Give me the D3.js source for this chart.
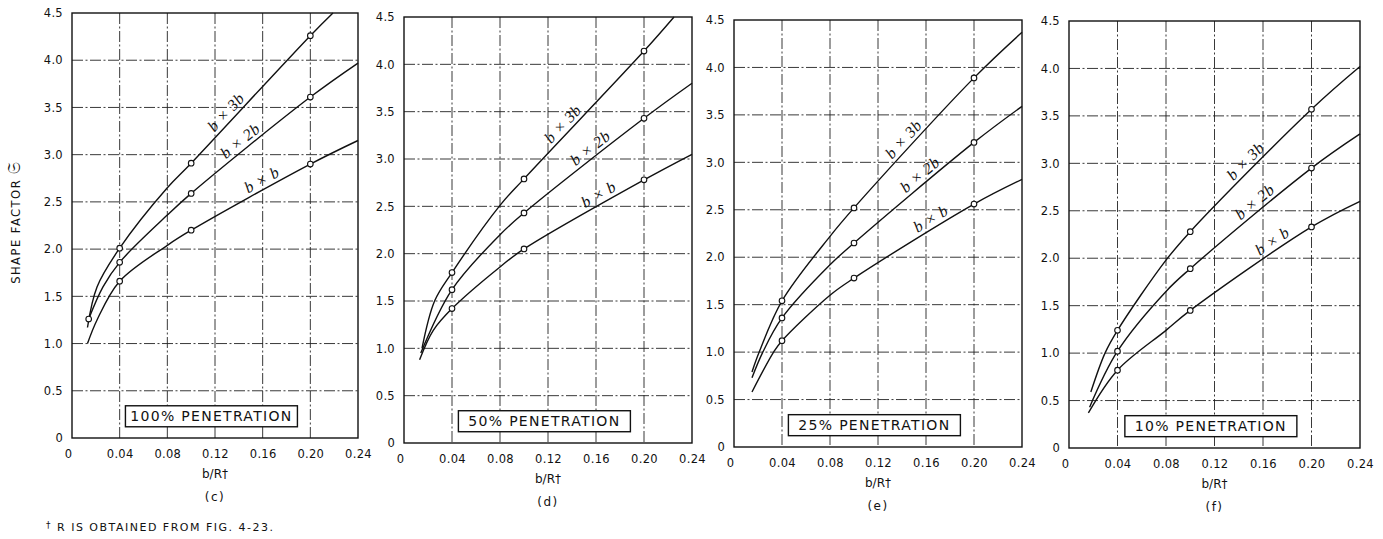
<!DOCTYPE html>
<html>
<head>
<meta charset="utf-8">
<script src="https://cdn.jsdelivr.net/npm/d3@7"></script>
<style>
  body { margin: 0; background: #fff; }
  svg text { font-family: "DejaVu Sans", sans-serif; fill: #111; }
  .grid line { stroke: #222; stroke-width: 0.9; stroke-dasharray: 11, 2.5, 2, 2.5; }
  .frame { fill: none; stroke: #111; stroke-width: 1.4; }
  .curve { fill: none; stroke: #111; stroke-width: 1.4; }
  .pt { fill: #fff; stroke: #111; stroke-width: 1.1; }
  .tick-label { font-size: 11.5px; letter-spacing: 0.3px; }
  .curve-label { font-family: "Liberation Serif", serif; font-style: italic; font-size: 16px; letter-spacing: 0.5px; }
  .pen-box { fill: #fff; stroke: #111; stroke-width: 1.4; }
  .pen-text { font-size: 14px; letter-spacing: 1.3px; }
</style>
</head>
<body>
<div id="chart"></div>
<script>
// ---- data ----
const xTicks = [0, 0.04, 0.08, 0.12, 0.16, 0.20, 0.24];
const yTicks = [0, 0.5, 1.0, 1.5, 2.0, 2.5, 3.0, 3.5, 4.0, 4.5];
const panelLetters = ["(c)", "(d)", "(e)", "(f)"];
const penetrations = ["100% PENETRATION", "50% PENETRATION", "25% PENETRATION", "10% PENETRATION"];
const seriesNames = ["b × 3b", "b × 2b", "b × b"];

// b/R of the circled points
const circleX = [0.04, 0.10, 0.20];

// shape factor at the circled points, per series (b×3b, b×2b, b×b)
const circlesC = [[2.01, 2.91, 4.26], [1.86, 2.59, 3.61], [1.66, 2.20, 2.90]];
const circlesD = [[1.80, 2.79, 4.14], [1.62, 2.43, 3.43], [1.42, 2.05, 2.78]];
const circlesE = [[1.54, 2.52, 3.89], [1.36, 2.15, 3.21], [1.12, 1.78, 2.56]];
const circlesF = [[1.24, 2.28, 3.57], [1.02, 1.89, 2.95], [0.82, 1.45, 2.33]];

// other points along each traced curve [b/R, shape factor]
const traceC = [
  [[0.013, 1.17], [0.021, 1.60], [0.08, 2.65], [0.219, 4.5]],
  [[0.014, 1.26], [0.026, 1.60], [0.08, 2.36], [0.24, 3.97]],
  [[0.013, 1.00], [0.021, 1.25], [0.08, 2.04], [0.24, 3.15]]
];
const traceD = [
  [[0.015, 1.00], [0.0255, 1.50], [0.08, 2.51], [0.225, 4.5]],
  [[0.014, 0.95], [0.08, 2.20], [0.24, 3.80]],
  [[0.013, 0.88], [0.0244, 1.19], [0.08, 1.86], [0.24, 3.05]]
];
const traceE = [
  [[0.015, 0.79], [0.021, 1.00], [0.08, 2.22], [0.24, 4.37]],
  [[0.015, 0.73], [0.024, 1.00], [0.08, 1.92], [0.24, 3.59]],
  [[0.015, 0.58], [0.033, 1.00], [0.08, 1.60], [0.24, 2.82]]
];
const traceF = [
  [[0.018, 0.59], [0.0297, 1.00], [0.08, 1.98], [0.24, 4.02]],
  [[0.017, 0.43], [0.08, 1.65], [0.24, 3.31]],
  [[0.016, 0.37], [0.08, 1.24], [0.24, 2.60]]
];

// extra circle drawn at the start of b×2b in panel (c)
const extraCircles = [{panel: 0, x: 0.014, y: 1.26}];

const circleSets = [circlesC, circlesD, circlesE, circlesF];
const traceSets = [traceC, traceD, traceE, traceF];

// ---- layout ----
const width = 1383, height = 539;
const panels = [
  {left: 72,   right: 358,  top: 13, bottom: 438, labelX: [0.135, 0.146, 0.163]},
  {left: 404,  right: 692,  top: 17, bottom: 443, labelX: [0.138, 0.160, 0.166]},
  {left: 734,  right: 1022, top: 20, bottom: 447, labelX: [0.147, 0.160, 0.168]},
  {left: 1069, right: 1360, top: 21, bottom: 448, labelX: [0.151, 0.158, 0.172]}
];

const svg = d3.select("#chart").append("svg")
    .attr("width", width)
    .attr("height", height);

const line = d3.line().curve(d3.curveCatmullRom.alpha(0.5));

function pointAtX(node, px) {
  let lo = 0, hi = node.getTotalLength();
  for (let i = 0; i < 30; i++) {
    const mid = (lo + hi) / 2;
    if (node.getPointAtLength(mid).x < px) lo = mid; else hi = mid;
  }
  return lo;
}

panels.forEach((p, pi) => {
  const x = d3.scaleLinear().domain([0, 0.24]).range([p.left, p.right]);
  const y = d3.scaleLinear().domain([0, 4.5]).range([p.bottom, p.top]);
  const g = svg.append("g");

  // grid lines (dash-dot)
  const grid = g.append("g").attr("class", "grid");
  grid.selectAll(".vx")
    .data(xTicks.slice(1, -1))
    .join("line")
      .attr("x1", d => x(d)).attr("x2", d => x(d))
      .attr("y1", p.top).attr("y2", p.bottom);
  grid.selectAll(".hy")
    .data(yTicks.slice(1, -1))
    .join("line")
      .attr("x1", p.left).attr("x2", p.right)
      .attr("y1", d => y(d)).attr("y2", d => y(d));

  // axes, labels only
  const xAxis = d3.axisBottom(x).tickValues(xTicks).tickSize(0).tickPadding(12)
      .tickFormat(d => d === 0 ? "0" : d3.format(".2f")(d));
  const yAxis = d3.axisLeft(y).tickValues(yTicks).tickSize(0).tickPadding(9)
      .tickFormat(d => d === 0 ? "0" : d3.format(".1f")(d));

  const xg = g.append("g").attr("transform", `translate(0,${p.bottom})`).call(xAxis);
  const yg = g.append("g").attr("transform", `translate(${p.left},0)`).call(yAxis);
  [xg, yg].forEach(a => {
    a.select(".domain").remove();
    a.selectAll("text").attr("class", "tick-label").attr("fill", "#111")
      .style("font-family", "DejaVu Sans, sans-serif");
  });
  xg.selectAll(".tick").filter(d => d === 0).select("text").attr("dx", -4);

  // frame
  g.append("rect").attr("class", "frame")
    .attr("x", p.left).attr("y", p.top)
    .attr("width", p.right - p.left).attr("height", p.bottom - p.top);

  // penetration box
  const cx = x(0.117), cy = y(0.23);
  const bw = 172, bh = 21;
  g.append("rect").attr("class", "pen-box")
    .attr("x", cx - bw / 2).attr("y", cy - bh / 2)
    .attr("width", bw).attr("height", bh);
  g.append("text").attr("class", "pen-text")
    .attr("x", cx).attr("y", cy + 5)
    .attr("text-anchor", "middle")
    .text(penetrations[pi]);

  // curves + circles
  const circles = circleSets[pi];
  const traces = traceSets[pi];
  seriesNames.forEach((name, si) => {
    const pts = traces[si].concat(circleX.map((cxv, k) => [cxv, circles[si][k]]))
      .sort((a, b) => a[0] - b[0]);
    const path = g.append("path").attr("class", "curve")
      .attr("d", line(pts.map(d => [x(d[0]), y(d[1])])));

    g.selectAll(null)
      .data(circleX.map((cxv, k) => [cxv, circles[si][k]]))
      .join("circle").attr("class", "pt")
      .attr("cx", d => x(d[0])).attr("cy", d => y(d[1])).attr("r", 2.8);

    // label along the curve
    const node = path.node();
    const L = pointAtX(node, x(p.labelX[si]));
    const a = node.getPointAtLength(L);
    const a1 = node.getPointAtLength(Math.max(0, L - 6));
    const a2 = node.getPointAtLength(L + 6);
    const ang = Math.atan2(a2.y - a1.y, a2.x - a1.x) * 180 / Math.PI;
    g.append("text").attr("class", "curve-label")
      .attr("transform", `translate(${a.x},${a.y}) rotate(${ang})`)
      .attr("y", -4)
      .attr("text-anchor", "middle")
      .text(name);
  });

  extraCircles.filter(e => e.panel === pi).forEach(e => {
    g.append("circle").attr("class", "pt")
      .attr("cx", x(e.x)).attr("cy", y(e.y)).attr("r", 2.8);
  });

  // x title and panel letter
  const mid = (p.left + p.right) / 2;
  g.append("text").attr("x", mid).attr("y", p.bottom + 40)
    .attr("text-anchor", "middle").style("font-size", "12px")
    .text("b/R†");
  g.append("text").attr("x", mid).attr("y", p.bottom + 63)
    .attr("text-anchor", "middle").style("font-size", "12px").style("letter-spacing", "1.5px")
    .text(panelLetters[pi]);
});

// y axis title
const yTitle = svg.append("text")
    .attr("transform", "translate(20,222) rotate(-90)")
    .attr("text-anchor", "middle")
    .style("font-size", "11.5px")
    .style("letter-spacing", "1.5px");
yTitle.append("tspan").text("SHAPE FACTOR ");
yTitle.append("tspan").style("font-size", "17px").text("𝔖");

// footnote
const foot = svg.append("text")
    .attr("x", 46).attr("y", 531)
    .style("font-size", "11px")
    .style("letter-spacing", "1.5px");
foot.append("tspan").attr("dy", -3).style("font-size", "9px").text("†");
foot.append("tspan").attr("dy", 3).text("  R IS OBTAINED FROM FIG. 4-23.");
</script>
</body>
</html>
